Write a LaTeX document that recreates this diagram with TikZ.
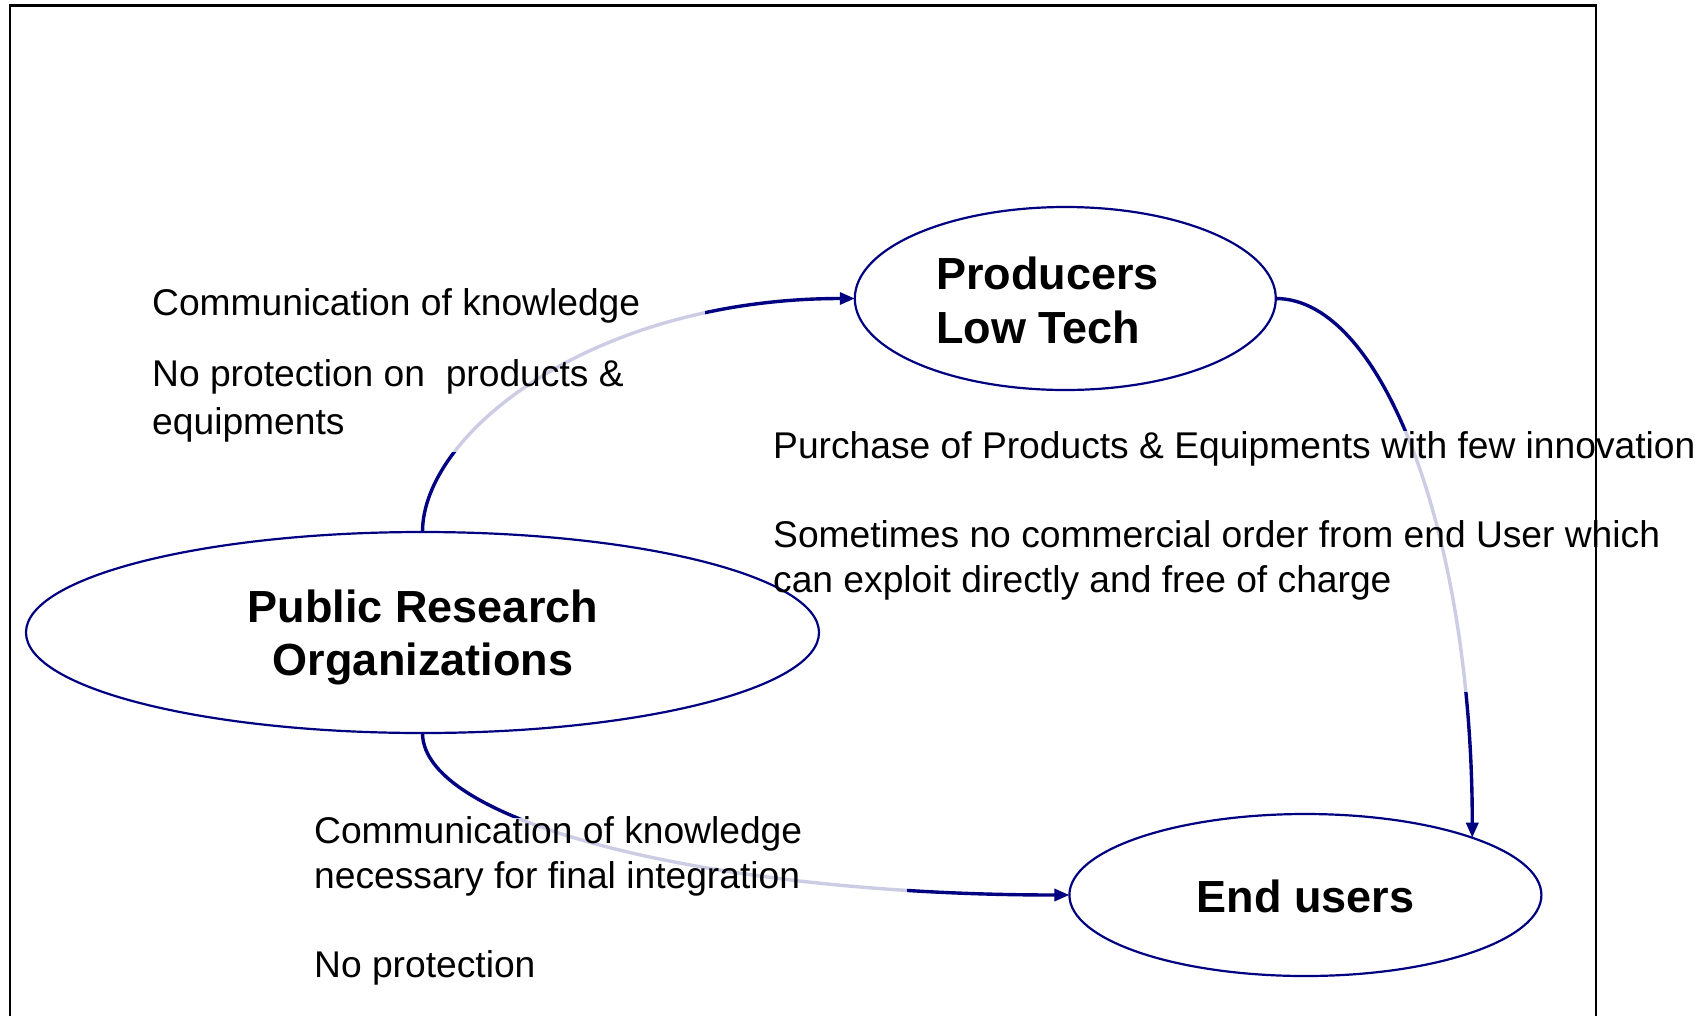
\documentclass[tikz,border=0pt]{standalone}
\usepackage{fontspec}
\setmainfont{Liberation Sans}
\usetikzlibrary{shapes.geometric,arrows.meta}
\definecolor{navy}{HTML}{000080}
\pgfdeclarelayer{arcs}
\pgfdeclarelayer{veils}
\pgfsetlayers{arcs,veils,main}
\begin{document}
\begin{tikzpicture}[x=1pt,y=-1pt,
  blob/.style={ellipse, draw=navy, line width=2.2pt, inner sep=0pt, outer sep=0pt},
  flow/.style={draw=navy, line width=3.4pt, -{Triangle[length=15pt,width=12pt]}},
  veil/.style={fill=white, fill opacity=0.8, draw=none},
  lbl/.style={anchor=base west, inner sep=0pt, font=\fontsize{37.2}{44}\selectfont},
  ttl/.style={anchor=base, inner sep=0pt, font=\fontsize{45}{53}\selectfont\bfseries},
]
\useasboundingbox (0,0) rectangle (1707,1015);

% actors
\node[blob, minimum width=793pt, minimum height=201pt] (pro)  at (422.5,632.5) {};
\node[blob, minimum width=421pt, minimum height=183pt] (prod) at (1065.3,298.5) {};
\node[blob, minimum width=472pt, minimum height=162pt] (eu)   at (1305.4,895) {};

% actor titles
\node[ttl] (proA) at (423,622) {Public Research};
\node[ttl] (proB) at (423,675) {Organizations};
\node[ttl, anchor=base west] (prodA) at (936,289) {Producers};
\node[ttl, anchor=base west] (prodB) at (936,343) {Low Tech};
\node[ttl] (euA) at (1305.4,912) {End users};

% flows
\begin{pgfonlayer}{arcs}
\draw[flow] (pro.north) .. controls +(0,-100) and +(-260,0) .. (prod.west);
\draw[flow] (prod.east) .. controls +(108,0) and +(0,-299) .. (eu.north east);
\draw[flow] (pro.south) .. controls +(0,90) and +(-357,0) .. (eu.west);
\end{pgfonlayer}

% text boxes with translucent white fill
\begin{pgfonlayer}{veils}
\fill[veil] (145,268) rectangle (705,452);
\fill[veil] (765,431) rectangle (1707,692);
\fill[veil] (305,818) rectangle (907,1015);
\end{pgfonlayer}

% flow descriptions
\node[lbl] (t1) at (152,315) {Communication of knowledge};
\node[lbl] (t2) at (152,386) {No protection on~ products \&};
\node[lbl] (t3) at (152,434) {equipments};
\node[lbl] (t4) at (773,458) {Purchase of Products \& Equipments with few innovation};
\node[lbl] (t5) at (773,547) {Sometimes no commercial order from end User which};
\node[lbl] (t6) at (773,592) {can exploit directly and free of charge};
\node[lbl] (t7) at (314,843) {Communication of knowledge};
\node[lbl] (t8) at (314,888) {necessary for final integration};
\node[lbl] (t9) at (314,977) {No protection};

% slide frame, open at the bottom
\draw[black, line width=2.2pt] (10,1020) -- (10,5.5) -- (1596,5.5) -- (1596,1020);
\end{tikzpicture}
\end{document}
